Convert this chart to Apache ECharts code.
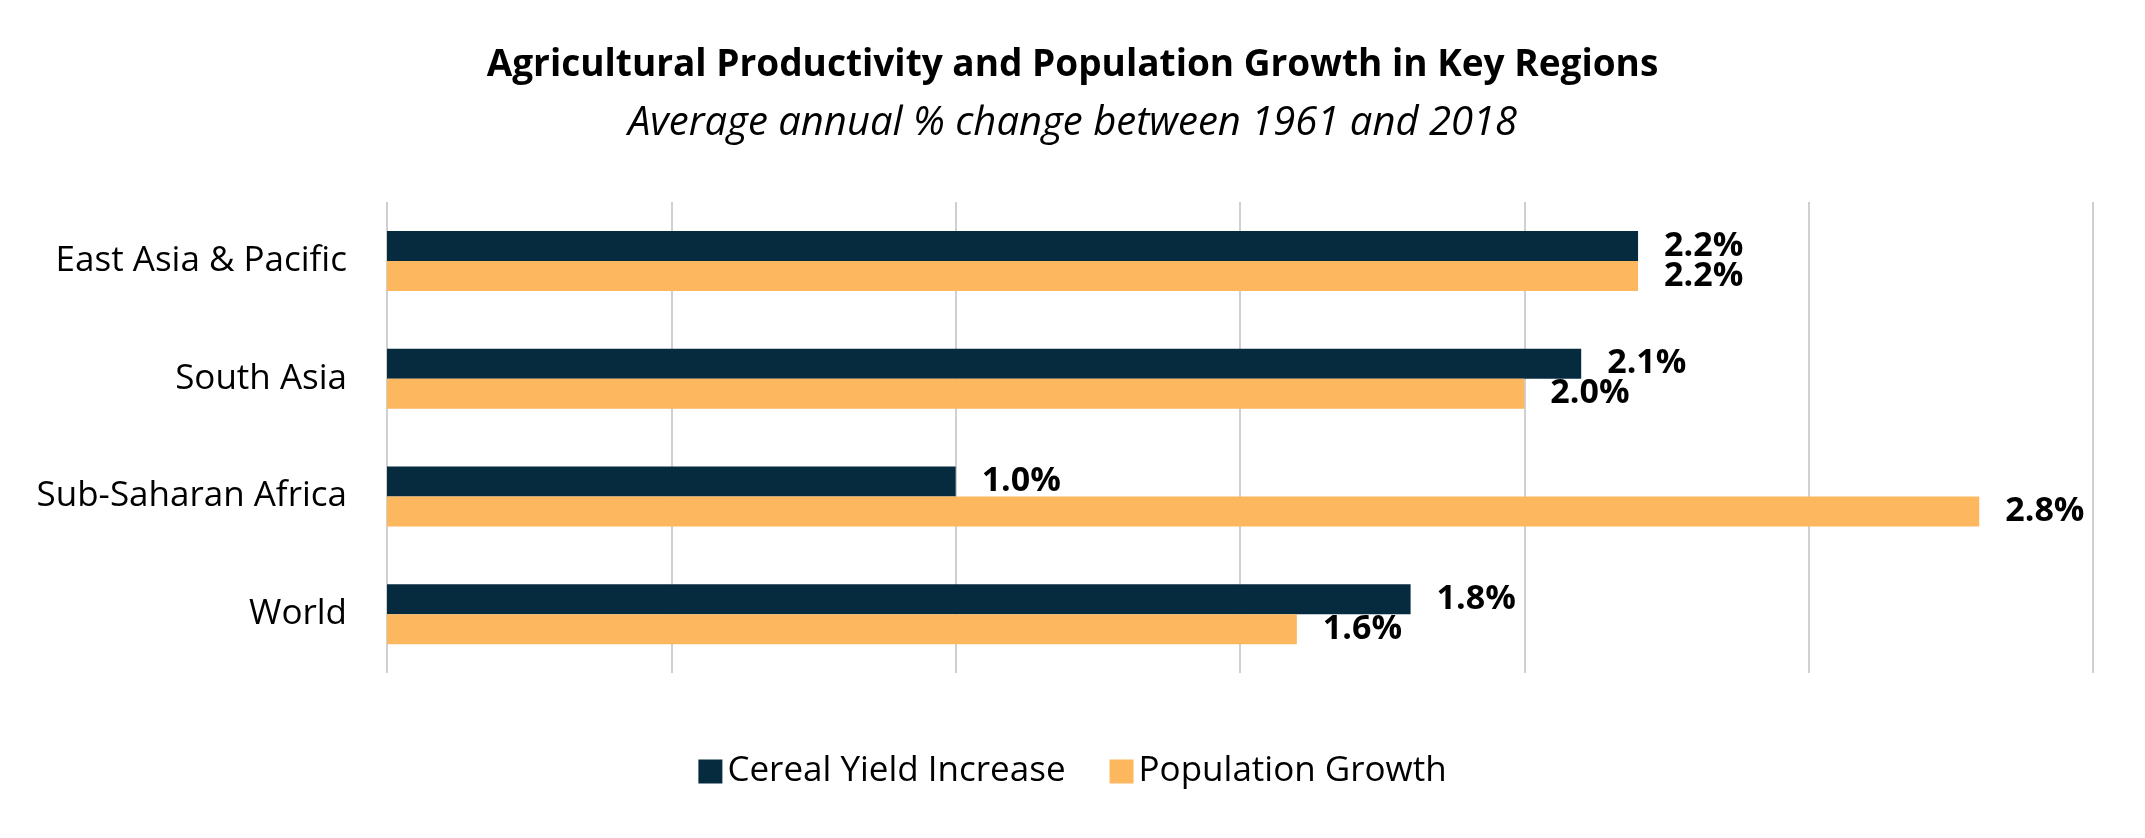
<!DOCTYPE html>
<html>
<head>
<meta charset="utf-8">
<script src="https://cdn.jsdelivr.net/npm/echarts@6/dist/echarts.min.js"></script>
<style>html,body{margin:0;padding:0;background:#fff}#chart{width:2145px;height:838px}</style>
</head>
<body>
<div id="chart"></div>
<script>
var regions = ['East Asia & Pacific', 'South Asia', 'Sub-Saharan Africa', 'World'];
var cerealYield = [2.2, 2.1, 1.0, 1.8];
var populationGrowth = [2.2, 2.0, 2.8, 1.6];

var chart = echarts.init(document.getElementById('chart'));
var labelStyle = {
    show: true,
    position: 'right',
    distance: 26,
    fontSize: 34,
    fontWeight: 'bold',
    color: '#000',
    fontFamily: 'Open Sans',
    formatter: function (p) { return p.value.toFixed(1) + '%'; }
};
chart.setOption({
    textStyle: {fontFamily: 'Open Sans'},
    title: {
        text: 'Agricultural Productivity and Population Growth in Key Regions',
        subtext: 'Average annual % change between 1961 and 2018',
        left: 'center',
        top: 42,
        itemGap: 20,
        textStyle: {fontSize: 37, fontWeight: 'bold', color: '#000'},
        subtextStyle: {fontSize: 40, fontStyle: 'italic', color: '#000'}
    },
    legend: {
        bottom: 44,
        left: 'center',
        itemWidth: 24,
        itemHeight: 24,
        itemGap: 44,
        icon: 'rect',
        textStyle: {fontSize: 35, color: '#000'},
        data: ['Cereal Yield Increase', 'Population Growth']
    },
    grid: {left: 387, right: 52, top: 202, bottom: 165},
    xAxis: {
        type: 'value',
        min: 0,
        max: 3,
        interval: 0.5,
        axisLabel: {show: false},
        splitLine: {lineStyle: {color: '#d0d0d0', width: 2}}
    },
    yAxis: {
        type: 'category',
        inverse: true,
        data: regions,
        axisTick: {show: false},
        axisLine: {show: false},
        axisLabel: {fontSize: 35, color: '#000', margin: 40}
    },
    series: [
        {name: 'Cereal Yield Increase', type: 'bar', data: cerealYield, barWidth: 30, barGap: '0%',
         itemStyle: {color: '#062b3f'}, label: labelStyle},
        {name: 'Population Growth', type: 'bar', data: populationGrowth, barWidth: 30,
         itemStyle: {color: '#fdb75f'}, label: labelStyle}
    ]
});
</script>
</body>
</html>
